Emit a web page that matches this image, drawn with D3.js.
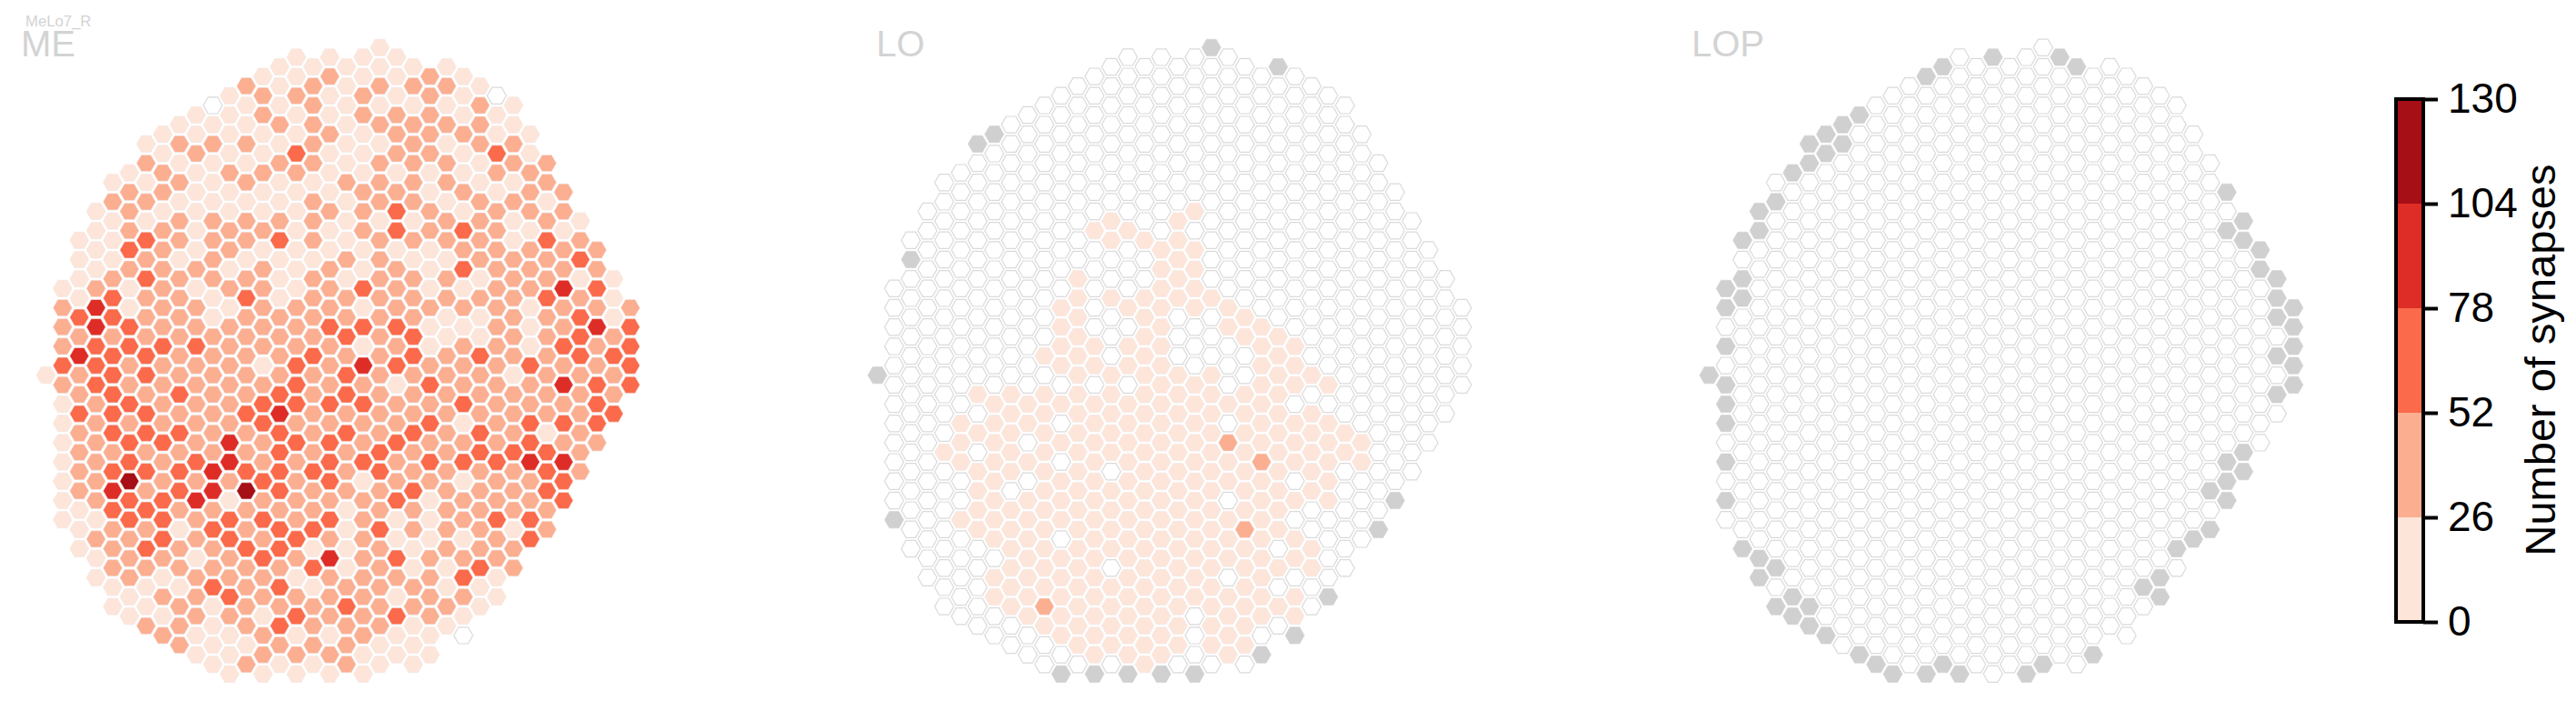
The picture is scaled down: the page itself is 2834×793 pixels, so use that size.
<!DOCTYPE html>
<html><head><meta charset="utf-8">
<style>html,body{margin:0;padding:0;background:#fff}svg{display:block}text{font-family:"Liberation Sans",Arial,sans-serif}</style>
<script src="https://cdn.jsdelivr.net/npm/d3@7"></script></head>
<body><svg id="c" width="2834" height="793"></svg>
<script>
const neuronLabel = "MeLo7_R";
const regionNames = ["ME","LO","LOP"];
const binEdges = [0,26,52,78,104,130];
const binColors = ["#fee5d9","#fcae91","#fb6a4a","#de2d26","#a50f15"];
const binCounts = [0,13,39,65,91,117];
const rowFirstColumn = [20,15,14,13,12,11,10,9,8,7,6,7,6,5,4,5,4,3,4,3,2,3,2,3,2,1,2,1,2,1,2,1,2,1,0,1,2,1,2,1,2,1,2,1,2,1,2,1,2,1,2,3,2,3,4,3,4,5,4,5,6,7,8,9,10,11];
const meBins = ["1","1111","111111","1121121","21212221","122121210","0112111121","1121122211","11122122221","111112122211","122212112122","121131122131","2111221222122","1212221111122","11212112222112","22111112212122","22111121221221","121111122321222","112222211122121","122122112323211","1132223212222132","1321211111122222","1121211122112223","1222121212132222","12322212122212211","12121221232112243","13221312222222321","241221222122221222","33221222222112231","243222223331121243","22222222323112232","233332222121221323","43322223223232233","332222132432223223","123322222322221222","232222232213222433","23232232322222222","12322233332232223","33322342222222223","12222232222312333","2333223232323212","12332423323222322","2222223223223332","1232342233233344","2333433323222232","1252223231221223","242345322232223","1233412222312223","133222221222222","113323323211233","122132331322212","22323232211123","12322331121222","1221232423222","2222223121132","1212221222231","111323122211","122322221221","112122232221","11221322321","2212322211","2112112110","21122211","11222111","1211211","11111"];
// LO: [row, first column, last column, columns left at zero]
const loLightSpans = [[17,19,19,[]],[18,14,18,[16]],[19,13,15,[]],[20,14,18,[]],[21,17,19,[]],[22,18,18,[]],[23,17,19,[]],[24,12,18,[14,16]],[25,17,19,[]],[26,12,20,[]],[27,11,21,[13]],[28,12,22,[14,18,20]],[29,11,23,[13,15,19]],[30,12,24,[14,18,20]],[31,11,25,[19,21]],[32,10,24,[14,18,20,22]],[33,11,25,[19,21]],[34,12,26,[22]],[35,17,27,[21]],[36,6,24,[]],[37,7,23,[]],[38,8,26,[]],[39,5,27,[11,21]],[40,6,28,[]],[41,5,29,[9]],[42,4,28,[6]],[43,5,29,[11]],[44,6,26,[14]],[45,7,27,[9,25]],[46,6,26,[8]],[47,7,27,[21]],[48,6,24,[]],[49,5,23,[]],[50,6,24,[]],[51,7,25,[11]],[52,8,26,[24]],[53,9,25,[]],[54,8,26,[14]],[55,7,23,[21]],[56,8,22,[]],[57,7,25,[]],[58,8,24,[]],[59,9,25,[19]],[60,10,22,[]],[61,11,21,[19]],[62,12,22,[]],[63,13,21,[19]],[64,16,16,[]]];
const loMidCells = [[41,21],[43,23],[50,22],[58,10]];
const loMissing = [[0,20],[2,24],[9,7],[10,6],[22,2],[34,0],[49,1],[47,31],[50,30],[57,27],[61,25],[63,23],[65,11],[65,13],[65,15],[65,17],[65,19]];
const lopMissing = [[1,17],[1,21],[2,14],[2,22],[3,13],[7,9],[8,8],[9,7],[10,6],[10,8],[11,7],[12,6],[13,5],[16,4],[17,3],[19,3],[20,2],[24,2],[25,1],[26,2],[27,1],[31,1],[15,31],[18,32],[19,31],[20,32],[21,33],[23,33],[24,34],[26,34],[28,34],[32,34],[36,34],[27,35],[29,35],[31,35],[33,35],[35,35],[34,0],[35,1],[37,1],[39,1],[43,1],[47,1],[42,32],[43,31],[44,32],[45,31],[46,30],[47,31],[50,30],[51,29],[52,28],[55,27],[56,26],[57,27],[63,23],[64,20],[65,19],[65,15],[64,14],[65,13],[65,11],[64,10],[63,9],[61,7],[60,6],[59,5],[58,6],[58,4],[57,5],[55,3],[54,4],[53,3],[52,2]];
const colorbarTicks = [0,26,52,78,104,130];

const columnStep = 18.37, rowStep = 10.6, hexRadius = 10.5;
const panelLeft = [50.5,965.3,1880.3], firstRowY = 52.3;
const labelX = [23,964,1861];
const svg = d3.select("#c");
const color = d3.scaleThreshold().domain(binEdges.slice(1,-1)).range(binColors);
const key = (r,k)=>r+"_"+k;

const lattice = meBins.flatMap((s,r)=>Array.from(s,(b,i)=>({r,k:rowFirstColumn[r]+2*i,me:binCounts[+b]})));
const loVals = new Map();
loLightSpans.forEach(([r,a,b,skip])=>{for(let k=a;k<=b;k+=2) if(!skip.includes(k)) loVals.set(key(r,k),13);});
loMidCells.forEach(([r,k])=>loVals.set(key(r,k),39));
const loGone = new Set(loMissing.map(([r,k])=>key(r,k)));
const lopGone = new Set(lopMissing.map(([r,k])=>key(r,k)));
const valueFns = [
  c=>c.me,
  c=>loGone.has(key(c.r,c.k))?null:(loVals.get(key(c.r,c.k))||0),
  c=>lopGone.has(key(c.r,c.k))?null:0
];
const y = d3.scaleLinear().domain([0,65]).range([firstRowY,firstRowY+65*rowStep]);
const hexPath = d3.line()(d3.range(6).map(i=>[hexRadius*Math.cos(i*Math.PI/3),hexRadius*Math.sin(i*Math.PI/3)]))+"Z";

regionNames.forEach((name,p)=>{
  const x = d3.scaleLinear().domain([0,35]).range([panelLeft[p],panelLeft[p]+35*columnStep]);
  const g = svg.append("g");
  g.selectAll("path").data(lattice).join("path")
    .attr("d",hexPath)
    .attr("transform",c=>`translate(${x(c.k)},${y(c.r)})`)
    .attr("fill",c=>{const v=valueFns[p](c);return v===null?"#d0d0d0":v===0?"#fff":color(v);})
    .attr("stroke",c=>{const v=valueFns[p](c);return v===null?"#d0d0d0":v===0?"#dadada":"#f0e6e2";})
    .attr("stroke-width",c=>valueFns[p](c)===0?1.2:0.6);
  svg.append("text").attr("x",labelX[p]).attr("y",62).attr("font-size",40).attr("fill","#d3d3d3").text(name);
});
svg.append("text").attr("x",28).attr("y",29).attr("font-size",16.7).attr("fill","#d3d3d3").text(neuronLabel);

// colour bar
const barX = 2636, barW = 30;
const cy = d3.scaleLinear().domain([0,130]).range([684,109]);
svg.selectAll("rect.bin").data(binColors).join("rect").attr("class","bin")
  .attr("x",barX).attr("width",barW)
  .attr("y",(d,i)=>cy(binEdges[i+1])).attr("height",(d,i)=>cy(binEdges[i])-cy(binEdges[i+1]))
  .attr("fill",d=>d);
svg.append("rect").attr("x",barX).attr("y",cy(130)).attr("width",barW).attr("height",cy(0)-cy(130))
  .attr("fill","none").attr("stroke","#000").attr("stroke-width",4);
const axis = svg.append("g").attr("transform",`translate(${barX+barW},0)`)
  .call(d3.axisRight(cy).tickValues(colorbarTicks).tickSize(16).tickPadding(11));
axis.select(".domain").remove();
axis.selectAll("line").attr("stroke","#000").attr("stroke-width",4);
axis.selectAll("text").attr("font-size",46).attr("font-family",'"Liberation Sans",Arial,sans-serif').attr("fill","#000");
svg.append("text").attr("transform","translate(2811,396) rotate(-90) scale(1,0.98)").attr("text-anchor","middle")
  .attr("font-size",47).attr("fill","#000").text("Number of synapses");
</script></body></html>
